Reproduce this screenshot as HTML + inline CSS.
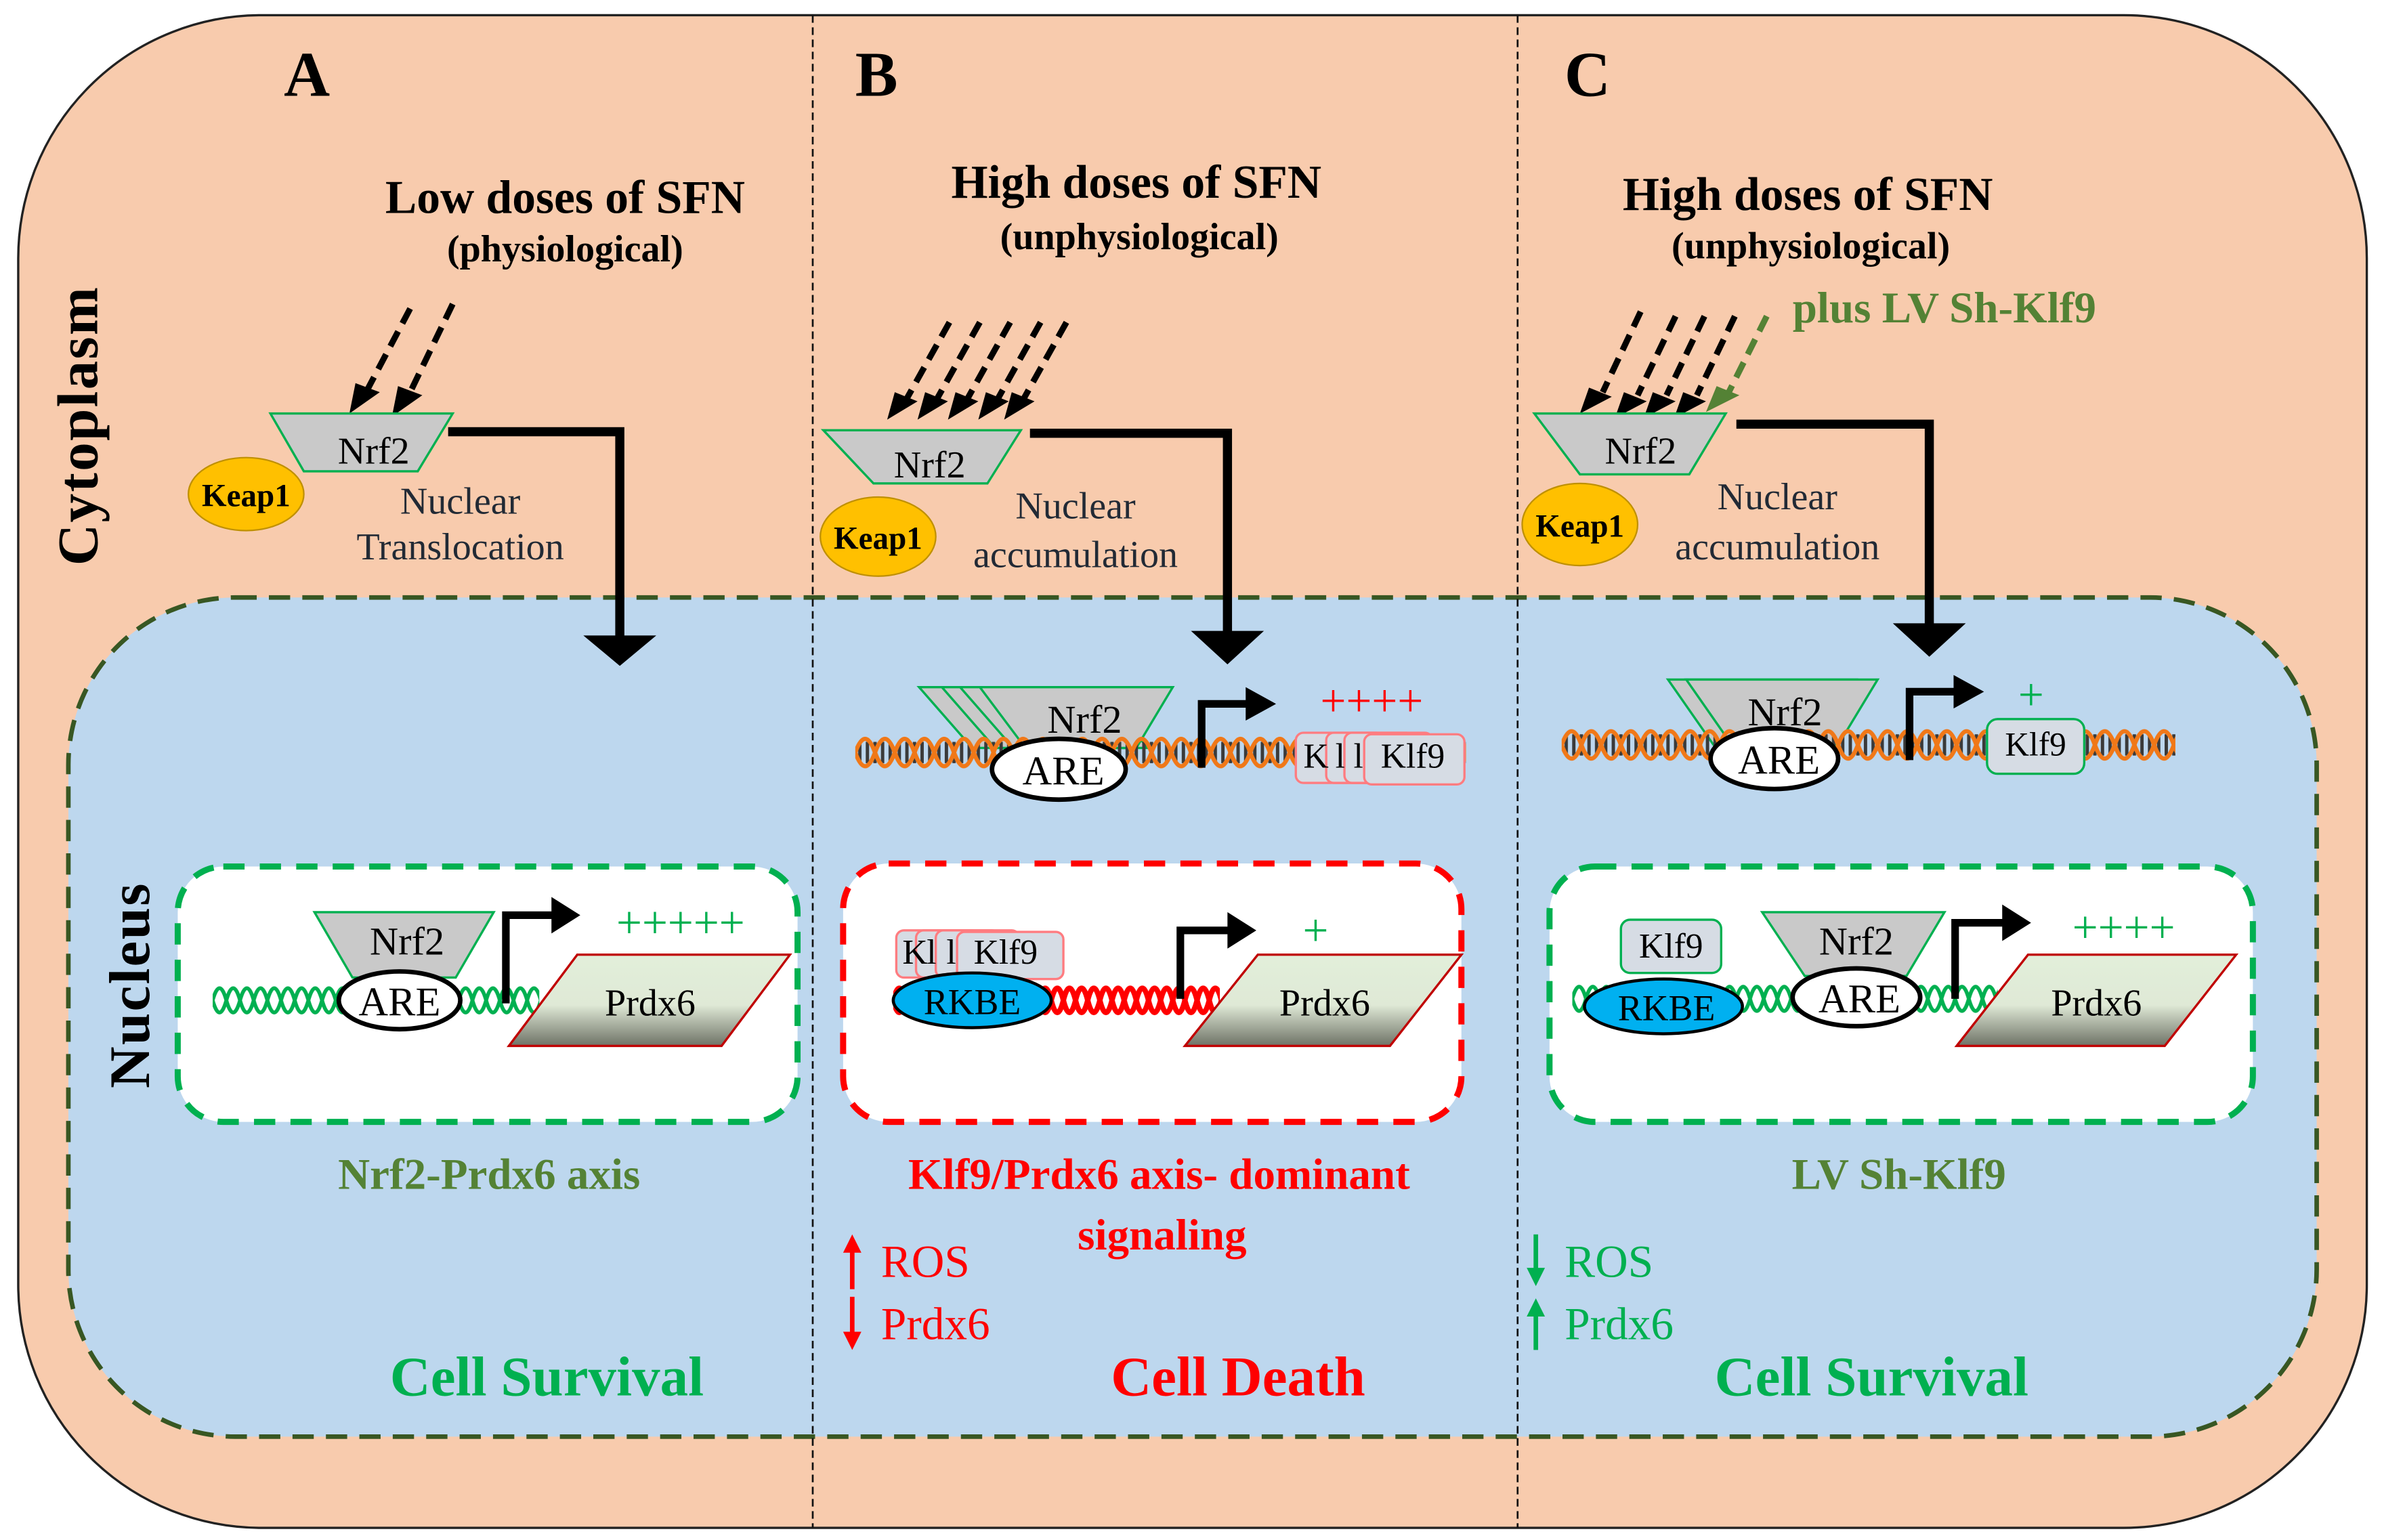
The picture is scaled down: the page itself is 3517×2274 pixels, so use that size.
<!DOCTYPE html>
<html><head><meta charset="utf-8"><style>
html,body{margin:0;padding:0;background:#fff;}
svg{display:block;}
svg text{font-family:"Liberation Serif","DejaVu Serif","Noto Serif CJK SC",serif;}
</style></head><body>
<svg width="3517" height="2274" viewBox="0 0 1568 1013" preserveAspectRatio="none" xmlns="http://www.w3.org/2000/svg">
<defs>
<linearGradient id="pg" x1="0" y1="0" x2="0" y2="1">
<stop offset="0" stop-color="#e2efda"/><stop offset="0.55" stop-color="#dfe9d6"/><stop offset="1" stop-color="#6e7266"/></linearGradient>
<pattern id="dA" x="140" y="644" width="18" height="28" patternUnits="userSpaceOnUse">
<path d="M0 14 Q4.5 -2 9 14 Q13.5 30 18 14 M0 14 Q4.5 30 9 14 Q13.5 -2 18 14" fill="none" stroke="#00b050" stroke-width="2.5"/></pattern>
<pattern id="dC" x="1035" y="643" width="18" height="28" patternUnits="userSpaceOnUse">
<path d="M0 14 Q4.5 -2 9 14 Q13.5 30 18 14 M0 14 Q4.5 30 9 14 Q13.5 -2 18 14" fill="none" stroke="#00b050" stroke-width="2.5"/></pattern>
<pattern id="dB" x="588" y="644" width="16" height="28" patternUnits="userSpaceOnUse">
<path d="M0 14 Q4 -2 8 14 Q12 30 16 14 M0 14 Q4 30 8 14 Q12 -2 16 14" fill="none" stroke="#ff0000" stroke-width="3.5"/></pattern>
<pattern id="oB" x="563" y="480" width="26" height="30" patternUnits="userSpaceOnUse">
<path d="M3 8 V22 M8 8V22 M13 8V22 M18 8V22 M23 8V22" stroke="#3a3a3a" stroke-width="2.2"/>
<path d="M0 15 Q6.5 -3 13 15 Q19.5 33 26 15 M0 15 Q6.5 33 13 15 Q19.5 -3 26 15" fill="none" stroke="#f07818" stroke-width="2.8"/></pattern>
<pattern id="oC" x="1028" y="475" width="26" height="30" patternUnits="userSpaceOnUse">
<path d="M3 8 V22 M8 8V22 M13 8V22 M18 8V22 M23 8V22" stroke="#3a3a3a" stroke-width="2.2"/>
<path d="M0 15 Q6.5 -3 13 15 Q19.5 33 26 15 M0 15 Q6.5 33 13 15 Q19.5 -3 26 15" fill="none" stroke="#f07818" stroke-width="2.8"/></pattern>
</defs>
<g>
<rect x="12" y="10" width="1546" height="995" rx="160" ry="160" fill="#f8cbad" stroke="#222" stroke-width="1.5"/>
<rect x="45" y="393" width="1480" height="552" rx="110" ry="110" fill="#bdd7ee" stroke="#385723" stroke-width="3" stroke-dasharray="14 8"/>
<line x1="535" y1="10" x2="535" y2="1005" stroke="#111" stroke-width="1.2" stroke-dasharray="5 3"/>
<line x1="999" y1="10" x2="999" y2="1005" stroke="#111" stroke-width="1.2" stroke-dasharray="5 3"/>

<text x="202" y="63" font-size="42" font-weight="bold" text-anchor="middle">A</text>
<text x="577" y="63" font-size="42" font-weight="bold" text-anchor="middle">B</text>
<text x="1045" y="63" font-size="42" font-weight="bold" text-anchor="middle">C</text>

<text transform="translate(64 280) rotate(-90)" font-size="38" font-weight="bold" text-anchor="middle" letter-spacing="1">Cytoplasm</text>
<text transform="translate(98 648) rotate(-90)" font-size="38" font-weight="bold" text-anchor="middle" letter-spacing="1">Nucleus</text>

<text x="372" y="140" font-size="31" font-weight="bold" text-anchor="middle">Low doses of SFN</text>
<text x="372" y="172" font-size="25" font-weight="bold" text-anchor="middle">(physiological)</text>
<g stroke="#000" stroke-width="4" stroke-dasharray="11 6" fill="none">
<line x1="298" y1="200" x2="270" y2="258"/><line x1="270" y1="203" x2="242" y2="256"/></g>
<polygon points="262,254 278,260 258,274" fill="#000"/><polygon points="234,252 250,258 230,272" fill="#000"/>
<polygon points="178,272 298,272 275,310 200,310" fill="#c9c9c9" stroke="#00b050" stroke-width="1.5"/>
<text x="246" y="305" font-size="25" text-anchor="middle">Nrf2</text>
<ellipse cx="162" cy="325" rx="38" ry="24" fill="#ffc000" stroke="#bf9000" stroke-width="1"/>
<text x="162" y="333" font-size="21" font-weight="bold" text-anchor="middle">Keap1</text>
<text x="303" y="338" font-size="25" fill="#222a35" text-anchor="middle">Nuclear</text>
<text x="303" y="368" font-size="25" fill="#222a35" text-anchor="middle">Translocation</text>
<polyline points="295,284 408,284 408,420" fill="none" stroke="#000" stroke-width="6"/>
<polygon points="384,418 432,418 408,438" fill="#000"/>

<text x="748" y="130" font-size="31" font-weight="bold" text-anchor="middle">High  doses of SFN</text>
<text x="750" y="164" font-size="25" font-weight="bold" text-anchor="middle">(unphysiological)</text>
<g stroke="#000" stroke-width="4" stroke-dasharray="11 6" fill="none">
<line x1="625" y1="212" x2="597" y2="262"/><line x1="645" y1="212" x2="617" y2="262"/><line x1="665" y1="212" x2="637" y2="262"/><line x1="685" y1="212" x2="657" y2="262"/><line x1="702" y1="212" x2="674" y2="262"/></g>
<g fill="#000"><polygon points="589,258 604,264 584,276"/><polygon points="609,258 624,264 604,276"/><polygon points="629,258 644,264 624,276"/><polygon points="649,258 664,264 644,276"/><polygon points="666,258 681,264 661,276"/></g>
<polygon points="542,283 672,283 650,318 575,318" fill="#c9c9c9" stroke="#00b050" stroke-width="1.5"/>
<text x="612" y="314" font-size="25" text-anchor="middle">Nrf2</text>
<ellipse cx="578" cy="353" rx="38" ry="26" fill="#ffc000" stroke="#bf9000" stroke-width="1"/>
<text x="578" y="361" font-size="21" font-weight="bold" text-anchor="middle">Keap1</text>
<text x="708" y="341" font-size="25" fill="#222a35" text-anchor="middle">Nuclear</text>
<text x="708" y="373" font-size="25" fill="#222a35" text-anchor="middle">accumulation</text>
<polyline points="678,285 808,285 808,418" fill="none" stroke="#000" stroke-width="6"/>
<polygon points="784,415 832,415 808,437" fill="#000"/>

<text x="1190" y="138" font-size="31" font-weight="bold" text-anchor="middle">High  doses of SFN</text>
<text x="1192" y="170" font-size="25" font-weight="bold" text-anchor="middle">(unphysiological)</text>
<text x="1180" y="212" font-size="29" font-weight="bold" fill="#548235">plus LV Sh-Klf9</text>
<g stroke="#000" stroke-width="4" stroke-dasharray="11 6" fill="none">
<line x1="1080" y1="205" x2="1055" y2="258"/><line x1="1103" y1="208" x2="1078" y2="260"/><line x1="1122" y1="208" x2="1097" y2="260"/><line x1="1142" y1="208" x2="1117" y2="260"/></g>
<line x1="1163" y1="208" x2="1138" y2="258" stroke="#548235" stroke-width="4" stroke-dasharray="11 6"/>
<g fill="#000"><polygon points="1046,255 1061,261 1040,272"/><polygon points="1069,258 1084,264 1063,275"/><polygon points="1088,258 1103,264 1082,275"/><polygon points="1108,258 1123,264 1102,275"/></g>
<polygon points="1130,254 1145,260 1123,271" fill="#548235"/>
<polygon points="1010,272 1136,272 1112,312 1040,312" fill="#c9c9c9" stroke="#00b050" stroke-width="1.5"/>
<text x="1080" y="305" font-size="25" text-anchor="middle">Nrf2</text>
<ellipse cx="1040" cy="345" rx="38" ry="27" fill="#ffc000" stroke="#bf9000" stroke-width="1"/>
<text x="1040" y="353" font-size="21" font-weight="bold" text-anchor="middle">Keap1</text>
<text x="1170" y="335" font-size="25" fill="#222a35" text-anchor="middle">Nuclear</text>
<text x="1170" y="368" font-size="25" fill="#222a35" text-anchor="middle">accumulation</text>
<polyline points="1143,279 1270,279 1270,412" fill="none" stroke="#000" stroke-width="6"/>
<polygon points="1246,410 1294,410 1270,432" fill="#000"/>

<polygon points="605,452 700,452 728,492 640,492" fill="#c9c9c9" stroke="#00b050" stroke-width="1.5"/>
<polygon points="620,452 715,452 743,492 655,492" fill="#c9c9c9" stroke="#00b050" stroke-width="1.5"/>
<polygon points="632,452 727,452 755,492 667,492" fill="#c9c9c9" stroke="#00b050" stroke-width="1.5"/>
<polygon points="645,452 772,452 748,492 675,492" fill="#c9c9c9" stroke="#00b050" stroke-width="1.5"/>
<text x="714" y="482" font-size="26" text-anchor="middle">Nrf2</text>
<rect x="563" y="480" width="402" height="30" fill="url(#oB)"/>
<ellipse cx="697" cy="506" rx="44" ry="20" fill="#fff" stroke="#000" stroke-width="3"/>
<text x="700" y="516" font-size="27" text-anchor="middle">ARE</text>
<polyline points="791,505 791,463 822,463" fill="none" stroke="#000" stroke-width="5"/>
<polygon points="820,452 840,463 820,474" fill="#000"/>
<text x="903" y="471" font-size="30" fill="#ff0000" text-anchor="middle">++++</text>
<g stroke="#ff7c80" stroke-width="1.5" fill="#d6dce4">
<rect x="853" y="482" width="58" height="33" rx="5"/><rect x="873" y="482" width="58" height="33" rx="5"/><rect x="885" y="482" width="58" height="33" rx="5"/><rect x="898" y="483" width="66" height="33" rx="5"/></g>
<text x="858" y="505" font-size="23">K</text><text x="879" y="505" font-size="23">l</text><text x="891" y="505" font-size="23">l</text>
<text x="930" y="505" font-size="23" text-anchor="middle">Klf9</text>

<polygon points="1098,447 1222,447 1198,490 1128,490" fill="#c9c9c9" stroke="#00b050" stroke-width="1.5"/>
<polygon points="1110,447 1236,447 1210,490 1140,490" fill="#c9c9c9" stroke="#00b050" stroke-width="1.5"/>
<text x="1175" y="477" font-size="26" text-anchor="middle">Nrf2</text>
<rect x="1028" y="475" width="404" height="30" fill="url(#oC)"/>
<ellipse cx="1168" cy="499" rx="42" ry="20" fill="#fff" stroke="#000" stroke-width="3"/>
<text x="1171" y="509" font-size="27" text-anchor="middle">ARE</text>
<polyline points="1257,500 1257,455 1288,455" fill="none" stroke="#000" stroke-width="5"/>
<polygon points="1286,444 1306,455 1286,466" fill="#000"/>
<text x="1337" y="467" font-size="30" fill="#00b050" text-anchor="middle">+</text>
<rect x="1308" y="473" width="64" height="36" rx="7" fill="#d6dce4" stroke="#00b050" stroke-width="1.5"/>
<text x="1340" y="497" font-size="22" text-anchor="middle">Klf9</text>

<rect x="117" y="570" width="408" height="168" rx="30" fill="#fff" stroke="#00b050" stroke-width="4" stroke-dasharray="14 10"/>
<rect x="555" y="568" width="407" height="170" rx="30" fill="#fff" stroke="#ff0000" stroke-width="4" stroke-dasharray="14 10"/>
<rect x="1020" y="570" width="463" height="168" rx="30" fill="#fff" stroke="#00b050" stroke-width="4" stroke-dasharray="14 10"/>

<polygon points="207,600 325,600 300,643 232,643" fill="#c9c9c9" stroke="#00b050" stroke-width="1.5"/>
<text x="268" y="628" font-size="26" text-anchor="middle">Nrf2</text>
<rect x="140" y="644" width="215" height="28" fill="url(#dA)"/>
<ellipse cx="263" cy="658" rx="40" ry="19" fill="#fff" stroke="#000" stroke-width="3"/>
<text x="263" y="668" font-size="27" text-anchor="middle">ARE</text>
<polyline points="333,660 333,602 365,602" fill="none" stroke="#000" stroke-width="5"/>
<polygon points="363,590 382,602 363,614" fill="#000"/>
<text x="448" y="617" font-size="30" fill="#00b050" text-anchor="middle">+++++</text>
<polygon points="335,688 380,628 520,628 475,688" fill="url(#pg)" stroke="#c00000" stroke-width="1.5"/>
<text x="428" y="668" font-size="25" text-anchor="middle">Prdx6</text>

<rect x="588" y="644" width="215" height="28" fill="url(#dB)"/>
<g stroke="#ff7c80" stroke-width="1.5" fill="#d6dce4">
<rect x="590" y="612" width="55" height="31" rx="5"/><rect x="603" y="612" width="55" height="31" rx="5"/><rect x="616" y="612" width="55" height="31" rx="5"/><rect x="630" y="613" width="70" height="31" rx="5"/></g>
<text x="594" y="634" font-size="23">K</text><text x="610" y="634" font-size="23">l</text><text x="623" y="634" font-size="23">l</text>
<text x="662" y="634" font-size="23" text-anchor="middle">Klf9</text>
<ellipse cx="640" cy="658" rx="52" ry="18" fill="#00b0f0" stroke="#000" stroke-width="2"/>
<text x="640" y="667" font-size="24" text-anchor="middle">RKBE</text>
<polyline points="777,657 777,612 810,612" fill="none" stroke="#000" stroke-width="5"/>
<polygon points="808,600 827,612 808,624" fill="#000"/>
<text x="866" y="622" font-size="30" fill="#00b050" text-anchor="middle">+</text>
<polygon points="780,688 828,628 962,628 915,688" fill="url(#pg)" stroke="#c00000" stroke-width="1.5"/>
<text x="872" y="668" font-size="25" text-anchor="middle">Prdx6</text>

<rect x="1035" y="643" width="280" height="28" fill="url(#dC)"/>
<rect x="1067" y="605" width="66" height="35" rx="6" fill="#d6dce4" stroke="#00b050" stroke-width="1.5"/>
<text x="1100" y="630" font-size="23" text-anchor="middle">Klf9</text>
<ellipse cx="1095" cy="662" rx="52" ry="18" fill="#00b0f0" stroke="#000" stroke-width="2"/>
<text x="1097" y="671" font-size="24" text-anchor="middle">RKBE</text>
<polygon points="1160,600 1280,600 1255,642 1188,642" fill="#c9c9c9" stroke="#00b050" stroke-width="1.5"/>
<text x="1222" y="628" font-size="26" text-anchor="middle">Nrf2</text>
<ellipse cx="1222" cy="656" rx="42" ry="19" fill="#fff" stroke="#000" stroke-width="3"/>
<text x="1224" y="666" font-size="27" text-anchor="middle">ARE</text>
<polyline points="1287,657 1287,607 1320,607" fill="none" stroke="#000" stroke-width="5"/>
<polygon points="1318,595 1337,607 1318,619" fill="#000"/>
<text x="1398" y="620" font-size="30" fill="#00b050" text-anchor="middle">++++</text>
<polygon points="1288,688 1335,628 1472,628 1425,688" fill="url(#pg)" stroke="#c00000" stroke-width="1.5"/>
<text x="1380" y="668" font-size="25" text-anchor="middle">Prdx6</text>

<text x="322" y="782" font-size="29" font-weight="bold" fill="#548235" text-anchor="middle">Nrf2-Prdx6 axis</text>
<text x="763" y="782" font-size="29" font-weight="bold" fill="#ff0000" text-anchor="middle">Klf9/Prdx6 axis- dominant</text>
<text x="765" y="822" font-size="29" font-weight="bold" fill="#ff0000" text-anchor="middle">signaling</text>
<text x="1250" y="782" font-size="29" font-weight="bold" fill="#548235" text-anchor="middle">LV Sh-Klf9</text>

<line x1="561" y1="848" x2="561" y2="822" stroke="#ff0000" stroke-width="3"/>
<polygon points="555,824 561,812 567,824" fill="#ff0000"/>
<text x="580" y="840" font-size="30" fill="#ff0000">ROS</text>
<line x1="561" y1="853" x2="561" y2="878" stroke="#ff0000" stroke-width="3"/>
<polygon points="555,876 561,888 567,876" fill="#ff0000"/>
<text x="580" y="881" font-size="30" fill="#ff0000">Prdx6</text>
<line x1="1011" y1="812" x2="1011" y2="836" stroke="#00b050" stroke-width="3"/>
<polygon points="1005,834 1011,846 1017,834" fill="#00b050"/>
<text x="1030" y="840" font-size="30" fill="#00b050">ROS</text>
<line x1="1011" y1="888" x2="1011" y2="864" stroke="#00b050" stroke-width="3"/>
<polygon points="1005,866 1011,854 1017,866" fill="#00b050"/>
<text x="1030" y="881" font-size="30" fill="#00b050">Prdx6</text>

<text x="360" y="918" font-size="37" font-weight="bold" fill="#00b050" text-anchor="middle">Cell Survival</text>
<text x="815" y="918" font-size="37" font-weight="bold" fill="#ff0000" text-anchor="middle">Cell Death</text>
<text x="1232" y="918" font-size="37" font-weight="bold" fill="#00b050" text-anchor="middle">Cell Survival</text>
</g>
</svg>
</body></html>
